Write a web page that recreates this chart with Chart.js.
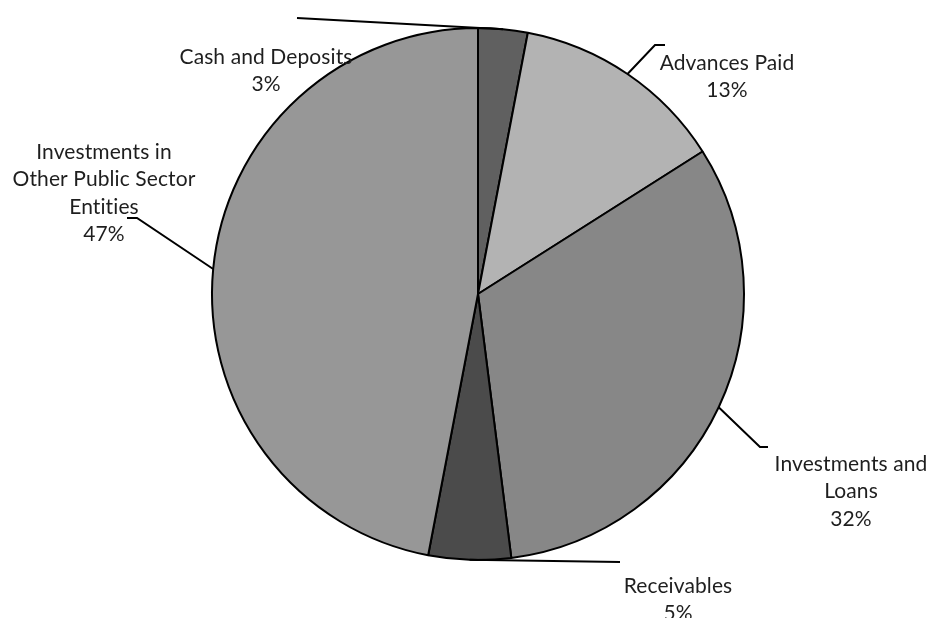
<!DOCTYPE html>
<html>
<head>
<meta charset="utf-8">
<script src="https://cdn.jsdelivr.net/npm/chart.js@4/dist/chart.umd.min.js"></script>
<style>
  body { margin: 0; background: #fff; }
  #wrap { width: 933px; height: 618px; }
</style>
</head>
<body>
<div id="wrap"><canvas id="pie" width="933" height="618"></canvas></div>
<script>
// dades del gràfic
const categories = ['Cash and Deposits', 'Advances Paid', 'Investments and Loans', 'Receivables', 'Investments in Other Public Sector Entities'];
const percents = [3, 13, 32, 5, 47];
const labelLines = [
  ['Cash and Deposits', '3%'],
  ['Advances Paid', '13%'],
  ['Investments and', 'Loans', '32%'],
  ['Receivables', '5%'],
  ['Investments in', 'Other Public Sector', 'Entities', '47%']
];

const colors = ['#606060', '#b3b3b3', '#878787', '#4b4b4b', '#979797'];

// on va cada etiqueta: centre del text, primera línia i punts de la línia guia
const labelLayout = [
  { x: 266, y: 57, path: [[297, 18]] },
  { x: 727, y: 63, path: [[665, 45], [655, 45]] },
  { x: 851, y: 464, path: [[768, 447], [760, 447]] },
  { x: 678, y: 586, path: [[620, 562]] },
  { x: 104, y: 152, path: [[127, 218], [137, 218]] }
];

const LINE_H = 27.5;

// etiquetes externes amb línia guia
const leaderLabels = {
  id: 'leaderLabels',
  afterDraw(chart) {
    const ctx = chart.ctx;
    const meta = chart.getDatasetMeta(0);
    ctx.save();
    meta.data.forEach((arc, i) => {
      const p = arc.getProps(['x', 'y', 'startAngle', 'endAngle', 'outerRadius'], true);
      const mid = (p.startAngle + p.endAngle) / 2;
      const ax = p.x + Math.cos(mid) * p.outerRadius;
      const ay = p.y + Math.sin(mid) * p.outerRadius;
      const lay = labelLayout[i];

      // línia guia des de la vora del sector
      ctx.strokeStyle = '#000';
      ctx.lineWidth = 2;
      ctx.beginPath();
      ctx.moveTo(ax, ay);
      const pts = lay.path.slice().reverse();
      pts.forEach(pt => ctx.lineTo(pt[0], pt[1]));
      ctx.stroke();

      // text centrat (l'espaiat evita la lligadura "ti")
      ctx.fillStyle = '#1e1e1e';
      ctx.font = '21px Lato, "Open Sans", sans-serif';
      ctx.letterSpacing = '0.1px';
      ctx.textAlign = 'center';
      ctx.textBaseline = 'middle';
      labelLines[i].forEach((t, k) => {
        ctx.fillText(t, lay.x, lay.y + k * LINE_H);
      });
    });
    ctx.restore();
  }
};

new Chart(document.getElementById('pie'), {
  type: 'pie',
  data: {
    labels: categories,
    datasets: [{
      data: percents,
      backgroundColor: colors,
      borderColor: '#000',
      borderWidth: 2
    }]
  },
  options: {
    responsive: false,
    animation: false,
    layout: { padding: { top: 27, bottom: 57, left: 211, right: 188 } },
    plugins: {
      legend: { display: false },
      tooltip: { enabled: false }
    }
  },
  plugins: [leaderLabels]
});
</script>
</body>
</html>
